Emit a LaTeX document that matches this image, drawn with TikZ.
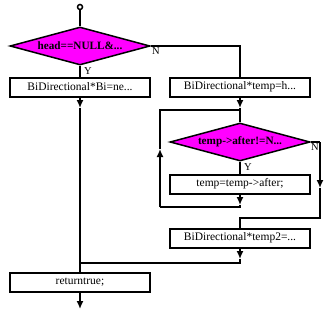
\documentclass[tikz,border=0pt]{standalone}
\usepackage{fontspec}
\setmainfont{Liberation Serif}
\usetikzlibrary{shapes.geometric,arrows.meta}
\definecolor{testfill}{RGB}{255,0,255}

\begin{document}
\begin{tikzpicture}[
	x=1pt, y=-1pt,
	line width=1.5pt,
	arr/.style={ -{Latex[length=8pt,width=7pt]} },
	proc/.style={ rectangle, draw, line width=2pt, fill=white, minimum width=140pt, minimum height=19pt, inner sep=0pt, font=\fontsize{11.5}{13}\selectfont },
	test/.style={ diamond, draw, line width=1.5pt, fill=testfill, minimum width=140pt, minimum height=38pt, inner sep=0pt, aspect=3.5, font=\bfseries\fontsize{11.2}{13}\selectfont },
	yn/.style={ font=\fontsize{10.5}{12}\selectfont, inner sep=1pt },
]
\useasboundingbox (0,0) rectangle (328,313);

\node at (80,7) (start) [circle, draw, line width=1.5pt, fill=white, inner sep=0pt, minimum size=5pt] {};
\node at (80,46) (head) [test] {head==NULL\&...};
\node at (80,87) (bi) [proc] {BiDirectional*Bi=ne...};
\node at (240,87) (temp) [proc] {BiDirectional*temp=h...};
\node at (240,142) (after) [test] {temp->after!=N...};
\node at (240,184) (step) [proc] {temp=temp->after;};
\node at (240,238) (temp2) [proc] {BiDirectional*temp2=...};
\node at (80,282) (ret) [proc] {returntrue;};

\node at (88,71) [yn] {Y};
\node at (156,51) [yn] {N};
\node at (248,167) [yn] {Y};
\node at (315,147) [yn] {N};

% corners and arrow tips along the lines
\coordinate (hN) at (240,46);
\coordinate (biA) at (80,108);
\coordinate (tA) at (240,108);
\coordinate (loop) at (240,110);
\coordinate (sA) at (240,205);
\coordinate (sB) at (240,207);
\coordinate (sC) at (160,207);
\coordinate (sD) at (160,149);
\coordinate (sE) at (160,110);
\coordinate (aN) at (320,142);
\coordinate (aA) at (320,188);
\coordinate (aB) at (320,218);
\coordinate (aC) at (240,218);
\coordinate (t2A) at (240,259);
\coordinate (join) at (240,263);
\coordinate (rJ) at (80,263);
\coordinate (end) at (80,309);

\draw (start) -- (head);
\draw (head) -- (bi);
\draw (head.east) -- (hN) -- (temp);

\draw[arr] (bi) -- (biA);
\draw (biA) -- (ret);

\draw[arr] (temp) -- (tA);
\draw (tA) -- (after);
\draw (after) -- (step);

\draw[arr] (step) -- (sA);
\draw (sA) -- (sB) -- (sC);
\draw[arr] (sC) -- (sD);
\draw (sD) -- (sE) -- (loop);

\draw (after.east) -- (aN);
\draw[arr] (aN) -- (aA);
\draw (aA) -- (aB) -- (aC) -- (temp2);

\draw[arr] (temp2) -- (t2A);
\draw (t2A) -- (join) -- (rJ);

\draw[arr] (ret) -- (end);

\end{tikzpicture}
\end{document}
